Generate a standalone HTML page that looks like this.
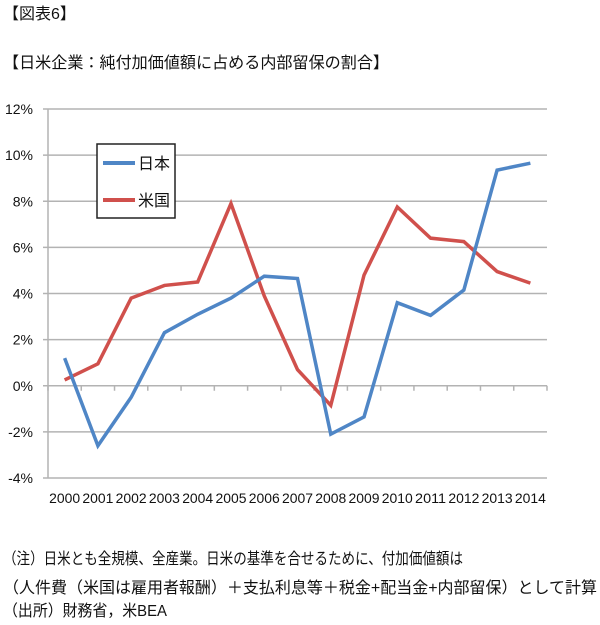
<!DOCTYPE html>
<html><head><meta charset="utf-8"><style>
html,body{margin:0;padding:0;background:#fff;}
svg{display:block;font-family:"Liberation Sans","Noto Sans CJK JP",sans-serif;}
</style></head><body>
<svg id="c" width="600" height="625" viewBox="0 0 600 625">
<text x="3" y="19" font-size="16" fill="#111">【図表6】</text>
<text x="3" y="68" font-size="16" fill="#111" textLength="386" lengthAdjust="spacingAndGlyphs">【日米企業：純付加価値額に占める内部留保の割合】</text>
<g id="grid"></g>
<g id="yt"></g>
<g id="xt"></g>
<g id="series"></g>
<g>
<rect x="97" y="144" width="78" height="74" fill="#fff" stroke="#222" stroke-width="1.5"/>
<line x1="103" y1="163" x2="135" y2="163" stroke="#4f86c6" stroke-width="4"/>
<text x="138" y="169" font-size="16" fill="#111">日本</text>
<line x1="103" y1="200" x2="135" y2="200" stroke="#d0504c" stroke-width="4"/>
<text x="138" y="206" font-size="16" fill="#111">米国</text>
</g>
<text x="3" y="564" font-size="16" fill="#111" textLength="460" lengthAdjust="spacingAndGlyphs">（注）日米とも全規模、全産業。日米の基準を合せるために、付加価値額は</text>
<text x="3" y="593" font-size="16" fill="#111" textLength="594" lengthAdjust="spacingAndGlyphs">（人件費（米国は雇用者報酬）＋支払利息等＋税金+配当金+内部留保）として計算</text>
<text x="3" y="616" font-size="16" fill="#111" textLength="164" lengthAdjust="spacingAndGlyphs">（出所）財務省，米BEA</text>
</svg>
<script>
const years=["2000","2001","2002","2003","2004","2005","2006","2007","2008","2009","2010","2011","2012","2013","2014"];
const japan=[1.2,-2.6,-0.5,2.3,3.1,3.8,4.75,4.65,-2.1,-1.35,3.6,3.05,4.15,9.35,9.65];
const us=[0.25,0.95,3.8,4.35,4.5,7.9,3.9,0.7,-0.85,4.8,7.75,6.4,6.25,4.95,4.45];
const yTicks=[12,10,8,6,4,2,0,-2,-4];
const yTickLabels=["12%","10%","8%","6%","4%","2%","0%","-2%","-4%"];
const NS="http://www.w3.org/2000/svg";
const L=48,R=547,T=109,B=478,yMax=12,yMin=-4;
const step=(R-L)/years.length;
const xs=i=>L+step*(i+0.5);
const ys=v=>T+(yMax-v)/(yMax-yMin)*(B-T);
function mk(tag,attrs,parent){const e=document.createElementNS(NS,tag);for(const k in attrs)e.setAttribute(k,attrs[k]);parent.appendChild(e);return e;}
const grid=document.getElementById('grid'),yt=document.getElementById('yt'),xt=document.getElementById('xt'),ser=document.getElementById('series');
yTicks.forEach((v,i)=>{
 const ln=mk('line',{x1:L-5,x2:R,y1:ys(v),y2:ys(v),stroke:'#b3b3b3','stroke-width':1.5},grid);
 
 
 const t=mk('text',{x:33,y:ys(v)+5,'font-size':14,'text-anchor':'end',fill:'#111'},yt);
 t.textContent=yTickLabels[i];
 
 
});
const ax=mk('line',{x1:L,x2:L,y1:T,y2:B,stroke:'#b3b3b3','stroke-width':1.5},grid);


for(let i=0;i<=years.length;i++){
 const tk=mk('line',{x1:L+step*i,x2:L+step*i,y1:ys(0),y2:ys(0)+5,stroke:'#b3b3b3','stroke-width':1.5},grid);
 
 
}
years.forEach((y,i)=>{
 const t=mk('text',{x:xs(i),y:503,'font-size':14,'text-anchor':'middle',fill:'#111',textLength:31,lengthAdjust:'spacingAndGlyphs'},xt);
 t.textContent=y;
 
 
});
function line(data,color,name){
 const p=mk('polyline',{points:data.map((v,i)=>xs(i)+','+ys(v)).join(' '),fill:'none',stroke:color,'stroke-width':3.5,'stroke-linejoin':'miter'},ser);
 
 
}
line(us,'#d0504c','us-line');
line(japan,'#4f86c6','japan-line');
</script>
</body></html>
